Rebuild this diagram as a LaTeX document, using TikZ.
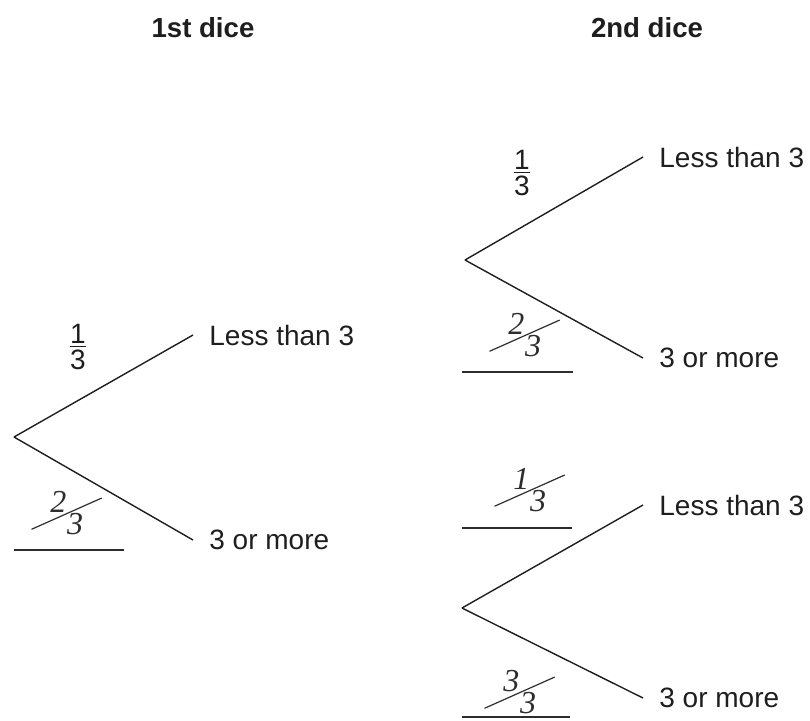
\documentclass[tikz,border=0pt]{standalone}
\usepackage{fontspec}
\usepackage{graphicx}
\setmainfont{Liberation Sans}
\newfontfamily\handFont{Liberation Serif}
\usetikzlibrary{positioning}
\definecolor{inkGray}{RGB}{30, 30, 30}
\definecolor{penGray}{RGB}{45, 45, 45}

% printed fraction: digit over digit
\newcommand{\printFrac}[2]{$\vcenter{\hbox{#1}\kern1.2pt\hrule height0.6pt\kern1.2pt\hbox{#2}}$}
% hand written fraction with a long slash
\newcommand{\handFrac}[2]{{\handFont\itshape\fontsize{16}{18}\selectfont
  \makebox[0pt][l]{\hspace{-0.3em}\raisebox{-0.05em}{\rotatebox{24}{\rule{2.4em}{0.6pt}}}}%
  \hspace{0.3em}\raisebox{0.5em}{#1}\hspace{0.02em}\raisebox{-0.2em}{#2}}}

\begin{document}
\begin{tikzpicture}[x=0.5pt, y=-0.5pt, font=\fontsize{14}{16}\selectfont, node distance=8pt,
    title/.style={font=\fontsize{13.8}{16}\selectfont\bfseries, text=inkGray},
    outcome/.style={inner sep=0pt, anchor=west, text=inkGray},
    branch/.style={line width=0.7pt, draw=inkGray},
    answer/.style={line width=0.7pt, draw=penGray}]
    \useasboundingbox (0,0) rectangle (810,720);

    \node[title] (first) at (203,28) {1st dice};
    \node[title] (second) at (647,28) {2nd dice};

    % 1st dice
    \coordinate (root) at (14,437);
    \coordinate (lessA) at (193,335);
    \coordinate (moreA) at (193,540);
    \node[outcome, right=of lessA] (lessAtxt) {Less than 3};
    \node[outcome, right=of moreA] (moreAtxt) {3 or more};
    \draw[branch] (root) -- (lessA);
    \draw[branch] (root) -- (moreA);
    \node[text=inkGray] (fracA) at (78,347) {\printFrac{1}{3}};
    \node[text=penGray] (handA) at (62,513) {\handFrac{2}{3}};
    \coordinate (lineAl) at (14,550);
    \coordinate (lineAr) at (124,550);
    \draw[answer] (lineAl) -- (lineAr);

    % 2nd dice, upper
    \coordinate (rootB) at (465,260);
    \coordinate (lessB) at (643,157);
    \coordinate (moreB) at (643,358);
    \node[outcome, right=of lessB] (lessBtxt) {Less than 3};
    \node[outcome, right=of moreB] (moreBtxt) {3 or more};
    \draw[branch] (rootB) -- (lessB);
    \draw[branch] (rootB) -- (moreB);
    \node[text=inkGray] (fracB) at (522,173) {\printFrac{1}{3}};
    \node[text=penGray] (handB) at (520,335) {\handFrac{2}{3}};
    \coordinate (lineBl) at (462,372);
    \coordinate (lineBr) at (573,372);
    \draw[answer] (lineBl) -- (lineBr);

    % 2nd dice, lower
    \coordinate (rootC) at (462,608);
    \coordinate (lessC) at (643,505);
    \coordinate (moreC) at (643,698);
    \node[outcome, right=of lessC] (lessCtxt) {Less than 3};
    \node[outcome, right=of moreC] (moreCtxt) {3 or more};
    \draw[branch] (rootC) -- (lessC);
    \draw[branch] (rootC) -- (moreC);
    \node[text=penGray] (handC) at (525,490) {\handFrac{1}{3}};
    \coordinate (lineCl) at (462,528);
    \coordinate (lineCr) at (572,528);
    \draw[answer] (lineCl) -- (lineCr);
    \node[text=penGray] (handD) at (515,692) {\handFrac{3}{3}};
    \coordinate (lineDl) at (462,717);
    \coordinate (lineDr) at (570,717);
    \draw[answer] (lineDl) -- (lineDr);
\end{tikzpicture}
\end{document}
